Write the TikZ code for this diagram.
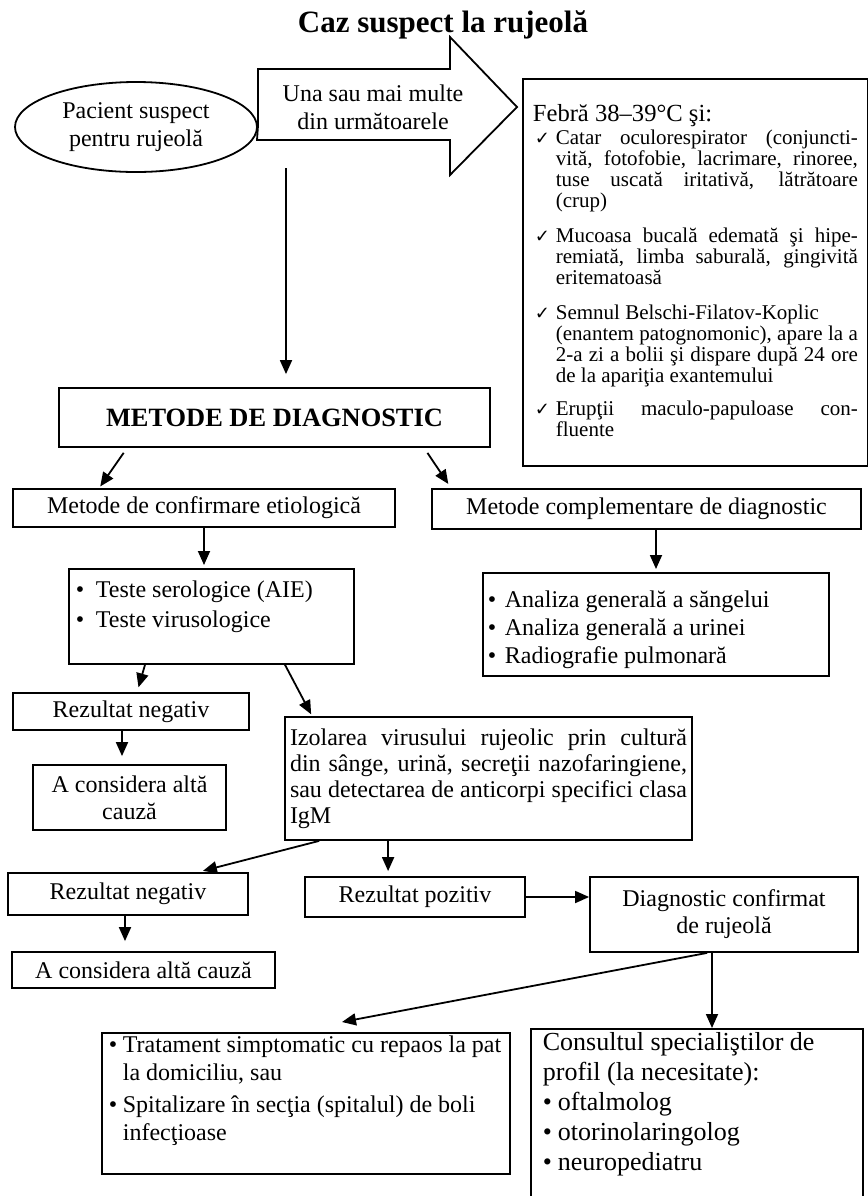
\documentclass[tikz,border=0pt]{standalone}
\usepackage{fontspec}
\setmainfont{Liberation Serif}
\newfontfamily\symfont{DejaVu Sans}
\usetikzlibrary{shapes.geometric,arrows.meta}
\tolerance=10000
\hyphenpenalty=10000
\newlength{\bulw}
\newcommand{\chkitem}[2][7pt]{\par\vspace{#1}\hangindent=11.5pt\hangafter=1\noindent\makebox[11.5pt][l]{\hspace{1pt}{\symfont\fontsize{9}{9}\selectfont ✓}}#2}
\newcommand{\bulitem}[2][0pt]{\par\vspace{#1}\hangindent=\bulw\hangafter=1\noindent\makebox[\bulw][l]{\textbullet}#2}
\newcommand{\topbox}[3]{\parbox[c][#1][t]{#2}{#3}}

\begin{document}
\begin{tikzpicture}[x=0.5pt,y=-0.5pt,line width=0.9pt,
    box/.style={draw,rectangle,inner sep=0pt,font=\fontsize{12}{14}\selectfont},
    listbox/.style={box,anchor=north west},
    arr/.style={-{Triangle[length=7pt,width=6pt]}}]
  \useasboundingbox (0,0) rectangle (868,1196);
  \clip (0,0) rectangle (868,1196);
  \node[anchor=base,font=\fontsize{15.5}{18}\selectfont\bfseries] (title) at (443,32) {Caz suspect la rujeolă};
  \node[draw,ellipse,inner sep=0pt,minimum width=121pt,minimum height=45pt,align=center,font=\fontsize{12}{14}\selectfont] (pacient) at (136,127) {Pacient suspect\\pentru rujeolă};
  \draw (pacient.east) |- (450,69) -- (450,37) -- (517,107) -- (450,175) -- (450,140) -- (257,140) -- cycle;
  \node[align=center,font=\fontsize{12}{14}\selectfont] (una) at (373,107) {Una sau mai multe\\din următoarele};
  \node[listbox,inner xsep=5pt,inner ysep=13pt,font=\fontsize{10.5}{10.5}\selectfont] (febra) at (522,78) {\topbox{167.5pt}{162.5pt}{%
    {\fontsize{12.3}{14}\selectfont Febră 38–39°C şi:\par}
    \chkitem[1pt]{Catar oculorespirator (conjuncti-\linebreak vită, fotofobie, lacrimare, rinoree,\linebreak tuse uscată iritativă, lătrătoare\linebreak (crup)}
    \chkitem{Mucoasa bucală edemată şi hipe-\linebreak remiată, limba saburală, gingivită\linebreak eritematoasă}
    \chkitem{Semnul Belschi-Filatov-Koplic\newline (enantem patognomonic), apare la a\linebreak 2-a zi a bolii şi dispare după 24 ore\linebreak de la apariţia exantemului}
    \chkitem[6pt]{Erupţii maculo-papuloase con-\linebreak fluente}}};
  \coordinate (start) at (286,168);
  \node[box,minimum width=215.5pt,minimum height=29.5pt,font=\fontsize{13.2}{15}\selectfont\bfseries] (metode) at (274.5,417.5) {METODE DE DIAGNOSTIC};
  \node[box,minimum width=191pt,minimum height=19pt] (confirm) at (204,508) {Metode de confirmare etiologică};
  \node[box,minimum width=214.5pt,minimum height=20pt] (compl) at (646.5,509) {Metode complementare de diagnostic};
  \node[listbox,inner xsep=3.5pt,inner ysep=5.8pt] (teste) at (68,568) {\topbox{35.9pt}{135.5pt}{\setlength{\bulw}{10pt}%
    \bulitem{Teste serologice (AIE)}
    \bulitem[1pt]{Teste virusologice}}};
  \node[listbox,inner xsep=2.5pt,inner ysep=9pt] (analiza) at (482,572) {\topbox{33.5pt}{168pt}{\setlength{\bulw}{8.5pt}%
    \bulitem{Analiza generală a săngelui}
    \bulitem{Analiza generală a urinei}
    \bulitem{Radiografie pulmonară}}};
  \node[box,minimum width=118pt,minimum height=18.5pt] (neg1) at (131,711.5) {Rezultat negativ};
  \node[box,minimum width=96.5pt,minimum height=32.5pt,align=center,font=\fontsize{12}{13.5}\selectfont] (alta1) at (129.5,797.5) {A considera altă\\cauză};
  \node[box,minimum height=61.5pt,text width=198.5pt,inner xsep=2.5pt,align=justify,font=\fontsize{12}{13}\selectfont] (izol) at (488.5,778.5) {Izolarea virusului rujeolic prin cultură\linebreak din sânge, urină, secreţii nazofaringiene,\linebreak sau detectarea de anticorpi specifici clasa\linebreak IgM};
  \node[box,minimum width=120pt,minimum height=21pt] (neg2) at (128,894) {Rezultat negativ};
  \node[box,minimum width=131.5pt,minimum height=18pt] (alta2) at (143.5,970) {A considera altă cauză};
  \node[box,minimum width=110pt,minimum height=20pt] (poz) at (415,897) {Rezultat pozitiv};
  \node[box,minimum width=134pt,minimum height=37.5pt,align=center,font=\fontsize{12}{13.5}\selectfont] (diag) at (724,914.5) {Diagnostic confirmat\\de rujeolă};
  \node[listbox,inner xsep=3.5pt,inner ysep=1.5pt] (trat) at (101,1032) {\topbox{67.5pt}{197pt}{\setlength{\bulw}{7pt}%
    \bulitem{Tratament simptomatic cu repaos la pat\newline la domiciliu, sau}
    \bulitem[2pt]{Spitalizare în secţia (spitalul) de boli\newline infecţioase}}};
  \node[listbox,inner xsep=6pt,inner ysep=2pt,font=\fontsize{13}{15}\selectfont] (consult) at (530,1028) {\topbox{87pt}{154pt}{\setlength{\bulw}{7.5pt}%
    Consultul specialiştilor de\newline profil (la necesitate):
    \bulitem{oftalmolog}
    \bulitem{otorinolaringolog}
    \bulitem{neuropediatru}}};
  \path[arr] (start) edge[shorten >=6.5pt] (start |- metode.north)
    ([xshift=34.5pt]metode.south west) edge[shorten <=3pt,shorten >=1pt] ([xshift=43.5pt]confirm.north west)
    ([xshift=183pt]metode.south west) edge[shorten <=3pt,shorten >=2.5pt] ([xshift=10pt]compl.north west)
    (confirm.south) edge[shorten >=1.5pt] (confirm.south |- teste.north)
    ([xshift=4.75pt]compl.south) edge[shorten >=1.5pt] ([xshift=4.75pt]compl.south |- analiza.north)
    ([xshift=38.5pt]teste.south west) edge[shorten >=2.5pt] ([xshift=62.5pt]neg1.north west)
    ([xshift=108.5pt]teste.south west) edge[shorten >=1pt] ([xshift=14pt]izol.north west)
    ([xshift=-4.5pt]neg1.south) edge[shorten >=4pt] ([xshift=-4.5pt]neg1.south |- alta1.north)
    ([xshift=17.5pt]izol.south west) edge[shorten >=2.5pt] ([xshift=95.5pt]neg2.north west)
    ([xshift=52pt]izol.south west) edge[shorten >=2.5pt] ([xshift=52pt]izol.south west |- poz.north)
    ([xshift=-1.5pt]neg2.south) edge[shorten >=5pt] ([xshift=-1.5pt]neg2.south |- alta2.north)
    (poz.east) edge (poz.east -| diag.west)
    ([xshift=59pt]diag.south west) edge ([xshift=120.5pt,yshift=5pt]trat.north west)
    ([xshift=-6pt]diag.south) edge ([xshift=-6pt]diag.south |- consult.north);
\end{tikzpicture}
\end{document}
